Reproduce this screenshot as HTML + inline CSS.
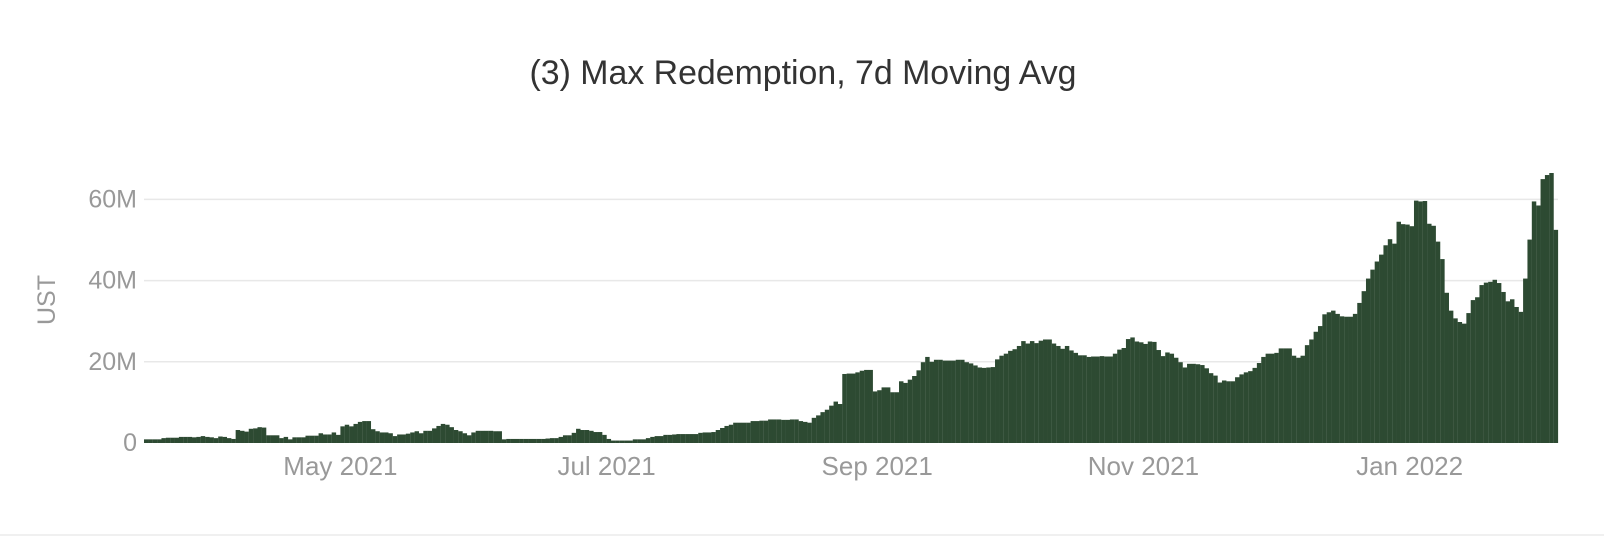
<!DOCTYPE html>
<html><head><meta charset="utf-8"><style>
html,body{margin:0;padding:0;background:#fff;}
svg{display:block;font-family:"Liberation Sans",sans-serif;}
</style></head><body>
<svg id="chart" width="1604" height="536" viewBox="0 0 1604 536" xmlns="http://www.w3.org/2000/svg">
<text x="803" y="84" text-anchor="middle" font-size="34" fill="#333" textLength="547" lengthAdjust="spacingAndGlyphs">(3) Max Redemption, 7d Moving Avg</text>
<text transform="translate(55,300) rotate(-90)" text-anchor="middle" font-size="25" fill="#999">UST</text>
<g id="grid"></g>
<g id="bars"></g>
<g id="yticks"></g>
<g id="xticks"></g>
<line x1="0" y1="535" x2="1604" y2="535" stroke="#f0f0f0" stroke-width="2"/>
</svg>
<script>
const startDate = "2021-03-17";
const values = [
0.9,0.9,0.9,0.9,1.2,1.3,1.3,1.3,1.5,1.5,
1.5,1.4,1.5,1.7,1.5,1.4,1.2,1.6,1.5,1.2,
1.0,3.2,3.0,2.8,3.5,3.6,3.9,3.8,1.9,1.9,
1.9,1.2,1.5,0.9,1.4,1.4,1.4,1.8,1.8,1.8,
2.4,2.1,2.1,2.6,2.0,4.1,4.5,4.1,4.7,5.2,
5.4,5.4,3.4,2.9,2.6,2.6,2.4,1.7,2.1,2.1,
2.3,2.6,2.9,2.4,3.0,3.0,3.6,4.2,4.7,4.5,
3.9,3.2,2.9,2.4,1.9,2.6,3.0,3.0,3.0,3.0,
2.9,2.9,0.9,1.0,1.0,1.0,1.0,1.0,1.0,1.0,
1.0,1.0,1.1,1.2,1.2,1.5,1.9,1.9,2.5,3.5,
3.2,3.2,3.0,2.7,2.7,2.0,1.0,0.6,0.6,0.6,
0.6,0.6,0.9,0.9,0.9,1.2,1.5,1.7,1.7,2.0,
2.0,2.1,2.2,2.2,2.2,2.2,2.2,2.5,2.6,2.6,
2.7,3.2,3.7,4.2,4.5,5.0,5.0,5.0,5.0,5.4,
5.4,5.5,5.5,5.8,5.8,5.8,5.7,5.7,5.8,5.8,
5.4,5.2,5.0,6.2,6.8,7.6,8.2,9.2,10.2,9.6,
17.0,17.1,17.1,17.4,17.8,18.0,18.0,12.7,13.0,13.7,
13.7,12.5,12.5,15.2,14.8,15.6,16.5,17.9,19.9,21.2,
20.0,20.5,20.5,20.3,20.3,20.3,20.5,20.5,19.9,19.6,
19.1,18.6,18.5,18.6,18.7,20.6,21.5,22.0,22.7,23.1,
23.9,25.1,24.5,25.1,24.6,25.2,25.5,25.5,24.5,23.9,
23.2,23.9,22.8,22.2,21.6,21.6,21.2,21.3,21.3,21.4,
21.3,21.3,22.0,23.0,23.4,25.6,26.0,25.0,24.8,24.4,
25.0,24.9,22.9,21.4,22.3,22.0,21.0,19.9,18.6,19.5,
19.5,19.4,19.2,18.4,17.2,16.6,14.9,15.4,15.2,15.2,
16.2,16.9,17.4,17.7,18.5,19.7,21.2,22.0,22.0,22.2,
23.3,23.3,23.3,21.5,21.0,21.5,24.1,25.5,27.4,28.8,
31.7,32.2,32.6,31.8,31.2,31.1,31.1,31.8,34.5,37.4,
40.5,42.7,44.7,46.4,48.7,50.2,49.1,54.5,53.9,53.8,
53.4,59.7,59.5,59.6,54.0,53.5,49.6,45.3,37.0,32.6,
30.7,29.8,29.4,32.0,35.2,35.9,38.9,39.5,39.7,40.2,
39.4,37.2,34.9,35.4,33.5,32.3,40.5,50.1,59.5,58.5,
65.0,66.0,66.5,52.5
];
const yTickValues = [0, 20, 40, 60];
const yTickLabels = ["0", "20M", "40M", "60M"];
const xTickDates = ["2021-05-01", "2021-07-01", "2021-09-01", "2021-11-01", "2022-01-01"];
const xTickLabels = ["May 2021", "Jul 2021", "Sep 2021", "Nov 2021", "Jan 2022"];

const NS = "http://www.w3.org/2000/svg";
const left = 144, right = 1558, y0 = 443, pxPerM = 81.2 / 20;
const DAY = 86400000;
const t0 = Date.parse(startDate + "T00:00:00Z");
const nDays = values.length;
const step = (right - left) / nDays;
function xScale(dateMs) { return left + (dateMs - t0) / DAY * step; }
function yScale(v) { return y0 - v * pxPerM; }

const grid = document.getElementById('grid');
const yt = document.getElementById('yticks');
yTickValues.forEach((v, i) => {
  const y = yScale(v);
  if (v > 0) {
    const l = document.createElementNS(NS, 'line');
    
    
    l.setAttribute('x1', left); l.setAttribute('x2', right);
    l.setAttribute('y1', y); l.setAttribute('y2', y);
    l.setAttribute('stroke', '#e8e8e8'); l.setAttribute('stroke-width', '1.5');
    grid.appendChild(l);
  }
  const t = document.createElementNS(NS, 'text');
  
  
  t.setAttribute('x', 137); t.setAttribute('y', y + 8);
  t.setAttribute('text-anchor', 'end'); t.setAttribute('font-size', '25'); t.setAttribute('fill', '#999');
  t.textContent = yTickLabels[i];
  yt.appendChild(t);
});

const bars = document.getElementById('bars');
values.forEach((v, i) => {
  const x = xScale(t0 + i * DAY);
  const r = document.createElementNS(NS, 'rect');
  
  
  r.setAttribute('x', x.toFixed(2));
  r.setAttribute('width', (step + 0.1).toFixed(2));
  r.setAttribute('y', yScale(v).toFixed(2));
  r.setAttribute('height', (v * pxPerM).toFixed(2));
  r.setAttribute('fill', '#2d4a32');
  bars.appendChild(r);
});

const xt = document.getElementById('xticks');
xTickDates.forEach((d, i) => {
  const x = xScale(Date.parse(d + "T00:00:00Z"));
  const t = document.createElementNS(NS, 'text');
  
  
  t.setAttribute('x', x.toFixed(1)); t.setAttribute('y', 475);
  t.setAttribute('text-anchor', 'middle'); t.setAttribute('font-size', '26'); t.setAttribute('fill', '#999');
  t.textContent = xTickLabels[i];
  xt.appendChild(t);
});
</script>
</body></html>
